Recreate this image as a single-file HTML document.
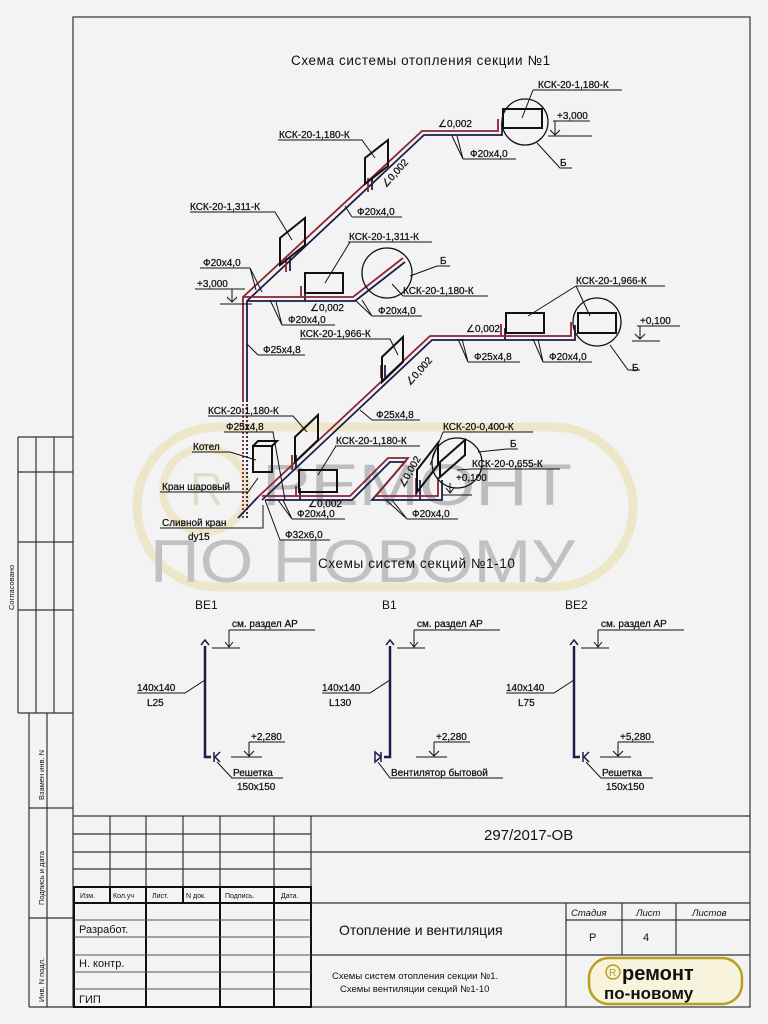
<!DOCTYPE html>
<html><head><meta charset="utf-8"><style>
html,body{margin:0;padding:0;background:#f3f3f3;}
svg{display:block;}
text{font-family:"Liberation Sans","DejaVu Sans",sans-serif;fill:#111;}
.l{font-size:10px;stroke:#111;stroke-width:0.25;}
</style></head><body>
<svg width="768" height="1024" viewBox="0 0 768 1024" xmlns="http://www.w3.org/2000/svg">
<rect width="768" height="1024" fill="#f3f3f3"/>
<!-- watermark -->
<g opacity="0.6">
<rect x="137" y="427" width="496" height="160" rx="80" fill="none" stroke="#eadfae" stroke-width="9"/>
<circle cx="205" cy="490" r="42" fill="none" stroke="#eadfae" stroke-width="8"/>
<text x="190" y="505" font-size="46" style="fill:#d8d0b0" font-family="Liberation Serif">R</text>
<text x="262" y="505" font-size="58" style="fill:#9a9a9a" font-family="Liberation Serif" textLength="310" lengthAdjust="spacingAndGlyphs">РЕМОНТ</text>
<text x="150" y="582" font-size="60" style="fill:#a0a0a0" font-family="Liberation Serif" textLength="425" lengthAdjust="spacingAndGlyphs">ПО  НОВОМУ</text>
</g>
<!-- frame -->
<g stroke="#333" stroke-width="1.2" fill="none">
<rect x="73" y="17" width="677" height="990"/>
<line x1="18" y1="437" x2="73" y2="437"/>
<line x1="18" y1="437" x2="18" y2="713"/>
<line x1="36" y1="437" x2="36" y2="713"/>
<line x1="54" y1="437" x2="54" y2="713"/>
<line x1="18" y1="472" x2="73" y2="472"/>
<line x1="18" y1="542" x2="73" y2="542"/>
<line x1="18" y1="610" x2="73" y2="610"/>
<line x1="18" y1="713" x2="73" y2="713"/>
<line x1="29" y1="713" x2="29" y2="1007"/>
<line x1="47" y1="713" x2="47" y2="1007"/>
<line x1="29" y1="808" x2="73" y2="808"/>
<line x1="29" y1="918" x2="73" y2="918"/>
<line x1="29" y1="1007" x2="73" y2="1007"/>
<line x1="73" y1="816" x2="750" y2="816"/>
<line x1="73" y1="834" x2="311" y2="834"/>
<line x1="73" y1="852" x2="750" y2="852"/>
<line x1="73" y1="869" x2="311" y2="869"/>
<line x1="311" y1="816" x2="311" y2="1007"/>
<line x1="311" y1="903" x2="750" y2="903"/>
<line x1="311" y1="955" x2="750" y2="955"/>
<line x1="566" y1="920" x2="750" y2="920"/>
<line x1="566" y1="903" x2="566" y2="1007"/>
<line x1="622" y1="903" x2="622" y2="955"/>
<line x1="676" y1="903" x2="676" y2="955"/>
<line x1="110" y1="816" x2="110" y2="887"/>
<line x1="146" y1="816" x2="146" y2="887"/>
<line x1="183" y1="816" x2="183" y2="887"/>
<line x1="220" y1="816" x2="220" y2="887"/>
<line x1="274" y1="816" x2="274" y2="887"/>
</g>
<g stroke="#111" stroke-width="2" fill="none">
<rect x="74" y="887" width="237" height="120"/>
<line x1="74" y1="903" x2="311" y2="903"/>
<line x1="110" y1="887" x2="110" y2="903"/>
<line x1="146" y1="887" x2="146" y2="1007"/>
<line x1="183" y1="887" x2="183" y2="903"/>
<line x1="220" y1="887" x2="220" y2="1007"/>
<line x1="274" y1="887" x2="274" y2="1007"/>
</g>
<g stroke="#555" stroke-width="1" fill="none">
<line x1="74" y1="920" x2="311" y2="920"/><line x1="74" y1="937" x2="311" y2="937"/>
<line x1="74" y1="955" x2="311" y2="955"/><line x1="74" y1="972" x2="311" y2="972"/>
<line x1="74" y1="989" x2="311" y2="989"/>
</g>
<g font-size="7">
<text x="80" y="898">Изм.</text><text x="113" y="898">Кол.уч</text><text x="152" y="898">Лист.</text><text x="186" y="898">N док.</text><text x="225" y="898">Подпись.</text><text x="281" y="898">Дата.</text>
</g>
<text x="79" y="933" font-size="11">Разработ.</text>
<text x="79" y="967" font-size="11">Н. контр.</text>
<text x="79" y="1003" font-size="11">ГИП</text>
<text x="484" y="840" font-size="15">297/2017-ОВ</text>
<text x="339" y="935" font-size="14">Отопление и вентиляция</text>
<text x="332" y="979" font-size="9.5">Схемы систем отопления секции №1.</text>
<text x="340" y="992" font-size="9.5">Схемы вентиляции секций №1-10</text>
<text x="571" y="916" font-size="9.5" font-style="italic">Стадия</text>
<text x="636" y="916" font-size="9.5" font-style="italic">Лист</text>
<text x="692" y="916" font-size="9.5" font-style="italic">Листов</text>
<text x="589" y="941" font-size="11">Р</text>
<text x="643" y="941" font-size="11">4</text>
<rect x="589" y="958" width="153" height="46" rx="20" fill="#f7f3dc" stroke="#b8a020" stroke-width="2.5"/>
<circle cx="613" cy="972" r="7" fill="none" stroke="#b8a020" stroke-width="1.5"/>
<text x="609" y="976" font-size="10" style="fill:#b8a020">R</text>
<text x="622" y="980" font-size="20" font-family="Liberation Mono" font-weight="bold">ремонт</text>
<text x="604" y="999" font-size="17" font-family="Liberation Mono" font-weight="bold">по-новому</text>
<g font-size="7.5">
<text transform="translate(44,800) rotate(-90)">Взамен инв. N</text>
<text transform="translate(44,905) rotate(-90)">Подпись и дата</text>
<text transform="translate(44,1002) rotate(-90)">Инв. N подл.</text>
<text transform="translate(14,610) rotate(-90)">Согласовано</text>
</g>

<text x="291" y="65" font-size="13.5" letter-spacing="0.6">Схема системы отопления секции №1</text>
<text x="318" y="568" font-size="13.5" letter-spacing="0.6">Схемы систем секций №1-10</text>

<g fill="none" stroke-width="1.8" stroke-linejoin="miter">
<g stroke="#1d1d4a">
<polyline points="247,400 247,301 424,135 502,135 502,122"/>
<polyline points="247,301 355,301 405,262"/>
<polyline points="262,500 432,340 575,340 575,325"/>
<polyline points="265,500 352,500 390,462 405,462 372,500 442,500 442,480"/>
<line x1="290" y1="271" x2="290" y2="258"/><line x1="372" y1="190" x2="372" y2="178"/>
<line x1="305" y1="301" x2="305" y2="289"/><line x1="505" y1="340" x2="505" y2="328"/>
<line x1="385" y1="378" x2="385" y2="365"/><line x1="296" y1="468" x2="296" y2="455"/>
<line x1="300" y1="500" x2="300" y2="488"/><line x1="420" y1="500" x2="420" y2="480"/>
</g>
<g stroke="#8c2236">
<polyline points="243,400 243,297 422,131 498,131 498,119"/>
<polyline points="243,297 353,297 403,258"/>
<polyline points="258,497 430,336 571,336 571,322"/>
<polyline points="262,496 350,496 388,458 408,458 376,496 438,496 438,477"/>
<line x1="286" y1="272" x2="286" y2="258"/><line x1="368" y1="192" x2="368" y2="178"/>
<line x1="301" y1="297" x2="301" y2="286"/><line x1="501" y1="336" x2="501" y2="324"/>
<line x1="381" y1="378" x2="381" y2="365"/><line x1="292" y1="470" x2="292" y2="455"/>
<line x1="296" y1="496" x2="296" y2="486"/><line x1="416" y1="496" x2="416" y2="478"/>
</g>
<line x1="243" y1="400" x2="243" y2="520" stroke="#8c2236" stroke-dasharray="2,2"/>
<line x1="247" y1="400" x2="247" y2="520" stroke="#1d1d4a" stroke-dasharray="2,2"/>
<line x1="258" y1="497" x2="238" y2="518" stroke="#1d1d4a"/>
</g>

<g fill="none" stroke="#111" stroke-width="2">
<rect x="503" y="109" width="39" height="19"/>
<rect x="305" y="273" width="38" height="20"/>
<rect x="506" y="313" width="38" height="20"/>
<rect x="578" y="313" width="38" height="20"/>
<rect x="299" y="470" width="38" height="22"/>
<polygon points="365,158 388,140 388,166 365,184"/>
<polygon points="280,238 305,218 305,245 280,265"/>
<polygon points="382,357 403,337 403,362 382,382"/>
<polygon points="295,437 318,415 318,440 295,462"/>
<polygon points="417,470 438,443 438,465 417,492"/>
<polygon points="440,462 465,440 465,455 440,477"/>
<rect x="253" y="446" width="19" height="26"/>
<polyline points="253,446 258,441 277,441 272,446 M277,441 277,467 272,472"/>
</g>
<g fill="none" stroke="#111" stroke-width="1.3">
<circle cx="525" cy="122" r="23"/>
<circle cx="387" cy="273" r="25"/>
<circle cx="597" cy="322" r="24"/>
<circle cx="457" cy="463" r="25"/>
</g>

<g fill="none" stroke="#111" stroke-width="1">
<path d="M533,90 H622 M533,90 L522,118"/>
<path d="M553,121 H590 M555,121 V134 M548,136 H592 M550,130 L555,135 L560,130"/>
<path d="M463,159 H516 M463,159 L452,136 M463,159 L457,136"/>
<path d="M537,143 L560,168 H572"/>
<path d="M278,140 H362 L375,158"/>
<path d="M352,217 H402 M352,217 L345,206"/>
<path d="M190,212 H275 L292,240"/>
<path d="M200,268 H250 M250,268 L256,290 M250,268 L262,292"/>
<path d="M195,289 H245 M232,289 V302 M220,304 H252 M227,297 L232,302 L237,297"/>
<path d="M348,242 H432 M350,242 L325,283"/>
<path d="M437,266 H450 M410,276 L437,266"/>
<path d="M403,296 H488 M403,296 L392,284"/>
<path d="M282,325 H335 M282,325 L270,300 M282,325 L276,302"/>
<path d="M372,316 H422 M372,316 L355,300 M372,316 L362,300"/>
<path d="M300,339 H390 L398,355"/>
<path d="M258,355 H305 M258,355 L247,344"/>
<path d="M576,286 H665 M576,286 L528,316 M576,286 L590,316"/>
<path d="M637,326 H680 M640,326 V339 M632,341 H660 M635,334 L640,339 L645,334"/>
<path d="M468,362 H520 M468,362 L458,339 M468,362 L462,339"/>
<path d="M543,362 H592 M543,362 L533,339 M543,362 L538,339"/>
<path d="M610,345 L628,370 H640"/>
<path d="M372,420 H420 M372,420 L360,410"/>
<path d="M208,416 H293 L307,432"/>
<path d="M224,432 H273 L285,500"/>
<path d="M443,432 H533 M443,432 L430,465"/>
<path d="M192,452 H230 L256,460"/>
<path d="M335,446 H420 M336,446 L318,475"/>
<path d="M478,452 L507,449 H518"/>
<path d="M472,469 H560 M472,469 L457,470"/>
<path d="M450,483 V493 M442,495 H472 M446,488 L450,493 L454,488"/>
<path d="M160,492 H248 L258,478"/>
<path d="M292,519 H345 M292,519 L278,500 M292,519 L283,500"/>
<path d="M407,519 H458 M407,519 L392,500 M407,519 L386,500"/>
<path d="M160,528 H263 L263,505"/>
<path d="M280,540 H330 M280,540 L265,500"/>
</g>

<g class="l">
<text x="538" y="88">КСК-20-1,180-К</text>
<text x="557" y="119">+3,000</text>
<text x="438" y="127">∠0,002</text>
<text x="470" y="157">Ф20x4,0</text>
<text x="560" y="166">Б</text>
<text x="279" y="138">КСК-20-1,180-К</text>
<text transform="translate(386,188) rotate(-48)">∠0,002</text>
<text x="357" y="215">Ф20x4,0</text>
<text x="190" y="210">КСК-20-1,311-К</text>
<text x="203" y="266">Ф20x4,0</text>
<text x="197" y="287">+3,000</text>
<text x="349" y="240">КСК-20-1,311-К</text>
<text x="440" y="264">Б</text>
<text x="403" y="294">КСК-20-1,180-К</text>
<text x="310" y="311">∠0,002</text>
<text x="288" y="323">Ф20x4,0</text>
<text x="378" y="314">Ф20x4,0</text>
<text x="300" y="337">КСК-20-1,966-К</text>
<text x="263" y="353">Ф25x4,8</text>
<text x="576" y="284">КСК-20-1,966-К</text>
<text x="466" y="332">∠0,002</text>
<text x="640" y="324">+0,100</text>
<text x="474" y="360">Ф25x4,8</text>
<text x="549" y="360">Ф20x4,0</text>
<text x="632" y="371">Б</text>
<text transform="translate(410,386) rotate(-48)">∠0,002</text>
<text x="376" y="418">Ф25x4,8</text>
<text x="208" y="414">КСК-20-1,180-К</text>
<text x="226" y="430">Ф25x4,8</text>
<text x="443" y="430">КСК-20-0,400-К</text>
<text x="193" y="450">Котел</text>
<text x="336" y="444">КСК-20-1,180-К</text>
<text x="510" y="447">Б</text>
<text x="472" y="467">КСК-20-0,655-К</text>
<text x="456" y="481">+0,100</text>
<text x="162" y="490">Кран шаровый</text>
<text transform="translate(404,488) rotate(-60)">∠0,002</text>
<text x="308" y="507">∠0,002</text>
<text x="297" y="517">Ф20x4,0</text>
<text x="412" y="517">Ф20x4,0</text>
<text x="162" y="526">Сливной кран</text>
<text x="188" y="540">dy15</text>
<text x="285" y="538">Ф32x6,0</text>
</g>

<g font-size="12"><text x="195" y="609">ВЕ1</text><text x="382" y="609">В1</text><text x="565" y="609">ВЕ2</text></g>
<g fill="none" stroke="#1d1d4a" stroke-width="2.5">
<path d="M205,646 V757 H211"/><path d="M390,646 V757 H384"/><path d="M574,646 V757 H580"/>
</g>
<g fill="none" stroke="#1d1d4a" stroke-width="1.5">
<path d="M201,645 L205,640 L209,645"/><path d="M386,645 L390,640 L394,645"/><path d="M570,645 L574,640 L578,645"/>
<path d="M214,752 V762 M220,752 L215,757 L220,762"/>
<path d="M375,752 L381,757 L375,762 Z M381,752 V762"/>
<path d="M583,752 V762 M589,752 L584,757 L589,762"/>
</g>
<g fill="none" stroke="#111" stroke-width="1">
<g id="v1">
<path d="M229,630 H315 M229,630 V647 M225,642 L229,647 L233,642 M212,648 H240"/>
<path d="M137,693 H185 L205,680"/>
<path d="M249,742 H285 M249,742 V756 M244,751 L249,756 L254,751 M231,757 H262"/>
</g>
<use href="#v1" x="185"/><use href="#v1" x="369"/>
<path d="M217,762 L232,778 H283"/>
<path d="M378,762 L390,778 H503"/>
<path d="M586,762 L601,778 H653"/>
</g>
<g class="l">
<text x="232" y="627">см. раздел АР</text><text x="417" y="627">см. раздел АР</text><text x="601" y="627">см. раздел АР</text>
<text x="137" y="691">140x140</text><text x="147" y="706">L25</text>
<text x="322" y="691">140x140</text><text x="329" y="706">L130</text>
<text x="506" y="691">140x140</text><text x="518" y="706">L75</text>
<text x="251" y="740">+2,280</text><text x="436" y="740">+2,280</text><text x="620" y="740">+5,280</text>
<text x="233" y="776">Решетка</text><text x="237" y="790">150x150</text>
<text x="391" y="776">Вентилятор бытовой</text>
<text x="602" y="776">Решетка</text><text x="606" y="790">150x150</text>
</g>
</svg>
</body></html>
